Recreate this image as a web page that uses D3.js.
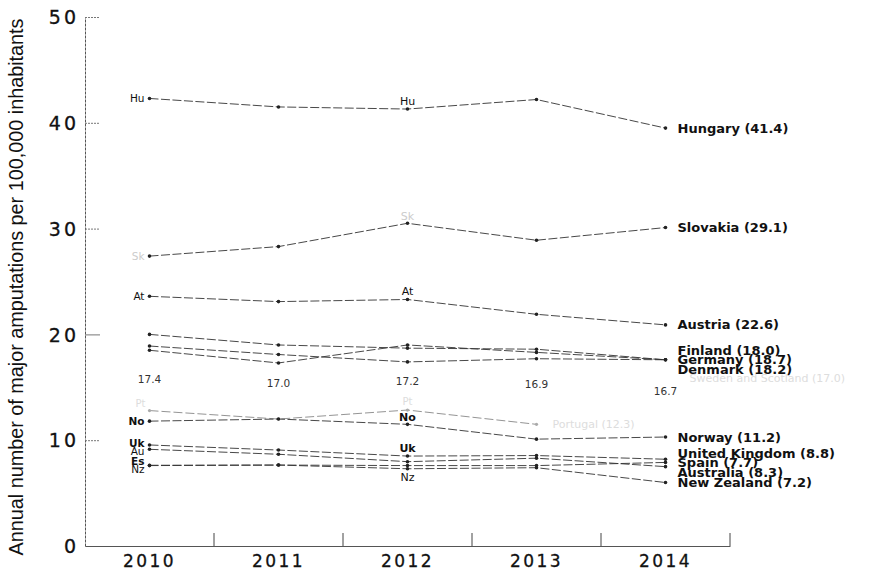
<!DOCTYPE html>
<html><head><meta charset="utf-8">
<script src="https://cdn.jsdelivr.net/npm/d3@7"></script>
<style>
html,body{margin:0;padding:0;background:#fff;}
svg{display:block;}
</style>
</head><body>
<svg id="chart" width="877" height="570"></svg>
<script>
// ---- data ----
const years = ["2010", "2011", "2012", "2013", "2014"];
const yTicks = [0, 10, 20, 30, 40, 50];

const hungary   = [42.3, 41.5, 41.3, 42.2, 39.5];
const slovakia  = [27.4, 28.3, 30.5, 28.9, 30.1];
const austria   = [23.6, 23.1, 23.3, 21.9, 20.9];
const germany   = [20.0, 19.0, 18.7, 18.6, 17.6];
const denmark   = [18.5, 17.3, 19.0, 18.3, 17.6];
const finland   = [18.9, 18.1, 17.4, 17.7, 17.6];
const norway    = [11.8, 12.0, 11.5, 10.1, 10.3];
const fadedSer  = [12.8, 12.0, 12.85, 11.5];
const uk        = [9.55, 9.07, 8.5, 8.55, 8.2];
const australia = [9.14, 8.67, 7.97, 8.3, 7.5];
const spain     = [7.63, 7.65, 7.6, 7.6, 7.9];
const nz        = [7.6, 7.65, 7.3, 7.4, 6.0];
const swedenVals = [17.4, 17.0, 17.2, 16.9, 16.7];

const seriesNames  = ["Hungary (41.4)", "Slovakia (29.1)", "Austria (22.6)", "Finland (18.0)", "Germany (18.7)", "Denmark (18.2)", "Norway (11.2)", "United Kingdom (8.8)", "Spain (7.7)", "Australia (8.3)", "New Zealand (7.2)"];
const seriesValues = [hungary, slovakia, austria, finland, germany, denmark, norway, uk, spain, australia, nz];
const shortCodes   = ["Hu", "Sk", "At", "", "", "", "No", "Uk", "Es", "Au", "Nz"];
const midCodes     = ["Hu", "", "At", "", "", "", "No", "Uk", "", "", "Nz"];
const fadedName = "Portugal (12.3)";
const swedenName = "Sweden and Scotland (17.0)";

// ---- drawing ----
const svg = d3.select("#chart");
const x = d3.scaleBand().domain(years).range([85, 730]).padding(0);
const y = d3.scaleLinear().domain([0, 50]).range([546, 17]);
const cx = d => x(d) + x.bandwidth() / 2;

// y-axis label
svg.append("text")
  .attr("transform", "translate(23,287) rotate(-90)")
  .attr("text-anchor", "middle")
  .attr("font-family", "'Liberation Sans Narrow','Liberation Sans',Arial,sans-serif")
  .attr("font-size", 20)
  .attr("textLength", 537)
  .attr("lengthAdjust", "spacingAndGlyphs")
  .attr("fill", "#111")
  .text("Annual number of major amputations per 100,000 inhabitants");

// y axis
const yAxis = d3.axisLeft(y).tickValues(yTicks).tickSize(0).tickPadding(6);
const gy = svg.append("g").attr("transform", "translate(85,0)").call(yAxis);
gy.select(".domain").attr("stroke", "#555").attr("stroke-width", 1).attr("stroke-dasharray", "3,1");
gy.selectAll("text")
  .attr("font-family", "'DejaVu Sans',Verdana,sans-serif")
  .attr("font-size", 19)
  .attr("letter-spacing", 3)
  .attr("fill", "#111")
  .attr("stroke", "#111").attr("stroke-width", 0.3)
  .attr("dy", "0.35em");
gy.selectAll(".tick").filter(d => d > 0).append("line")
  .attr("x1", 0).attr("x2", 15)
  .attr("stroke", "#777").attr("stroke-width", 1)
  .attr("stroke-dasharray", d => d === 20 ? null : "2,1");

// x axis
const xAxis = d3.axisBottom(x).tickSize(0).tickPadding(9);
const gx = svg.append("g").attr("transform", "translate(0,546)").call(xAxis);
gx.select(".domain").attr("stroke", "#555").attr("stroke-width", 1);
gx.selectAll("text")
  .attr("font-family", "'DejaVu Sans',Verdana,sans-serif")
  .attr("font-size", 17)
  .attr("letter-spacing", 2.5)
  .attr("fill", "#111")
  .attr("stroke", "#111").attr("stroke-width", 0.3);
gx.selectAll(".tick").append("line")
  .attr("x1", x.bandwidth() / 2).attr("x2", x.bandwidth() / 2)
  .attr("y1", 0).attr("y2", -13)
  .attr("stroke", "#444").attr("stroke-width", 1);

const line = d3.line().x((d, i) => cx(years[i])).y(d => y(d));

// faded series
svg.append("path").datum(fadedSer).attr("d", line)
  .attr("fill", "none").attr("stroke", "#888").attr("stroke-width", 0.9)
  .attr("stroke-dasharray", "9,3");
svg.selectAll(".fpt").data(fadedSer).enter().append("circle")
  .attr("cx", (d, i) => cx(years[i])).attr("cy", d => y(d)).attr("r", 1.6)
  .attr("fill", "#aaa");
svg.append("text").attr("x", cx(years[3]) + 16).attr("y", y(fadedSer[3])).attr("dy", "0.35em")
  .attr("font-family", "'DejaVu Sans',sans-serif").attr("font-size", 11)
  .attr("fill", "#ddd").text(fadedName);
svg.append("text").attr("x", cx(years[0]) - 4).attr("y", y(fadedSer[0]) - 4)
  .attr("text-anchor", "end")
  .attr("font-family", "'DejaVu Sans',sans-serif").attr("font-size", 10)
  .attr("fill", "#ddd").text("Pt");
svg.append("text").attr("x", cx(years[2])).attr("y", y(fadedSer[2]) - 5)
  .attr("text-anchor", "middle")
  .attr("font-family", "'DejaVu Sans',sans-serif").attr("font-size", 10)
  .attr("fill", "#ddd").text("Pt");

// main series
seriesValues.forEach((vals) => {
  svg.append("path").datum(vals).attr("d", line)
    .attr("fill", "none").attr("stroke", "#333").attr("stroke-width", 0.9)
    .attr("stroke-dasharray", "9,2.5");
  svg.selectAll(null).data(vals).enter().append("circle")
    .attr("cx", (d, i) => cx(years[i])).attr("cy", d => y(d)).attr("r", 1.8)
    .attr("fill", "#222");
});

// label spreading helper
function spread(items, gap) {
  items.sort((a, b) => a.y - b.y || a.o - b.o);
  for (let it = 0; it < 200; it++) {
    let moved = false;
    for (let i = 1; i < items.length; i++) {
      const d = items[i].y - items[i - 1].y;
      if (d < gap - 0.01) {
        const s = (gap - d) / 2;
        items[i].y += s; items[i - 1].y -= s; moved = true;
      }
    }
    if (!moved) break;
  }
  return items;
}

// right labels
const rightItems = spread(seriesValues.map((v, k) => ({ t: seriesNames[k], y: y(v[4]), o: k })), 9.8);
svg.selectAll(".rlab").data(rightItems).enter().append("text")
  .attr("x", cx(years[4]) + 12).attr("y", d => d.y).attr("dy", "0.35em")
  .attr("font-family", "'DejaVu Sans',sans-serif").attr("font-weight", "bold")
  .attr("font-size", 13).attr("fill", "#111")
  .text(d => d.t);

// left codes
const leftItems = spread(seriesValues.map((v, k) => ({ t: shortCodes[k], y: y(v[0]), o: k, faint: k === 1 }))
  .filter(d => d.t), 8.5);
svg.selectAll(".llab").data(leftItems).enter().append("text")
  .attr("x", cx(years[0]) - 5).attr("y", d => d.y).attr("dy", "0.35em")
  .attr("text-anchor", "end")
  .attr("font-family", "'DejaVu Sans',sans-serif").attr("font-size", 10.5)
  .attr("font-weight", d => ["Uk", "Es", "No"].includes(d.t) ? "bold" : "normal")
  .attr("fill", d => d.faint ? "#ccc" : "#111")
  .text(d => d.t);

// mid codes at 2012
midCodes.forEach((c, k) => {
  if (!c) return;
  const below = c === "Nz";
  const off = c === "No" ? -7 : (below ? 8 : -8);
  svg.append("text").attr("x", cx(years[2])).attr("y", y(seriesValues[k][2]) + off)
    .attr("dy", "0.35em").attr("text-anchor", "middle")
    .attr("font-family", "'DejaVu Sans',sans-serif").attr("font-size", 11)
    .attr("font-weight", ["Uk", "No"].includes(c) ? "bold" : "normal")
    .attr("fill", "#111").text(c);
});
// faint Sk at 2012
svg.append("text").attr("x", cx(years[2])).attr("y", y(slovakia[2]) - 7).attr("dy", "0.35em")
  .attr("text-anchor", "middle").attr("font-family", "'DejaVu Sans',sans-serif")
  .attr("font-size", 11).attr("fill", "#ccc").text("Sk");

// sweden value labels
svg.selectAll(".sv").data(swedenVals).enter().append("text")
  .attr("x", (d, i) => cx(years[i]))
  .attr("y", (d, i) => y(d) + 21 + (i === 4 ? 5 : 0))
  .attr("text-anchor", "middle")
  .attr("font-family", "'DejaVu Sans',sans-serif").attr("font-size", 10.5)
  .attr("fill", "#333")
  .text(d => d.toFixed(1));
svg.append("text").attr("x", cx(years[4]) + 24).attr("y", y(swedenVals[4]) + 13)
  .attr("font-family", "'DejaVu Sans',sans-serif").attr("font-size", 11)
  .attr("fill", "#ddd").text(swedenName);
</script>
</body></html>
